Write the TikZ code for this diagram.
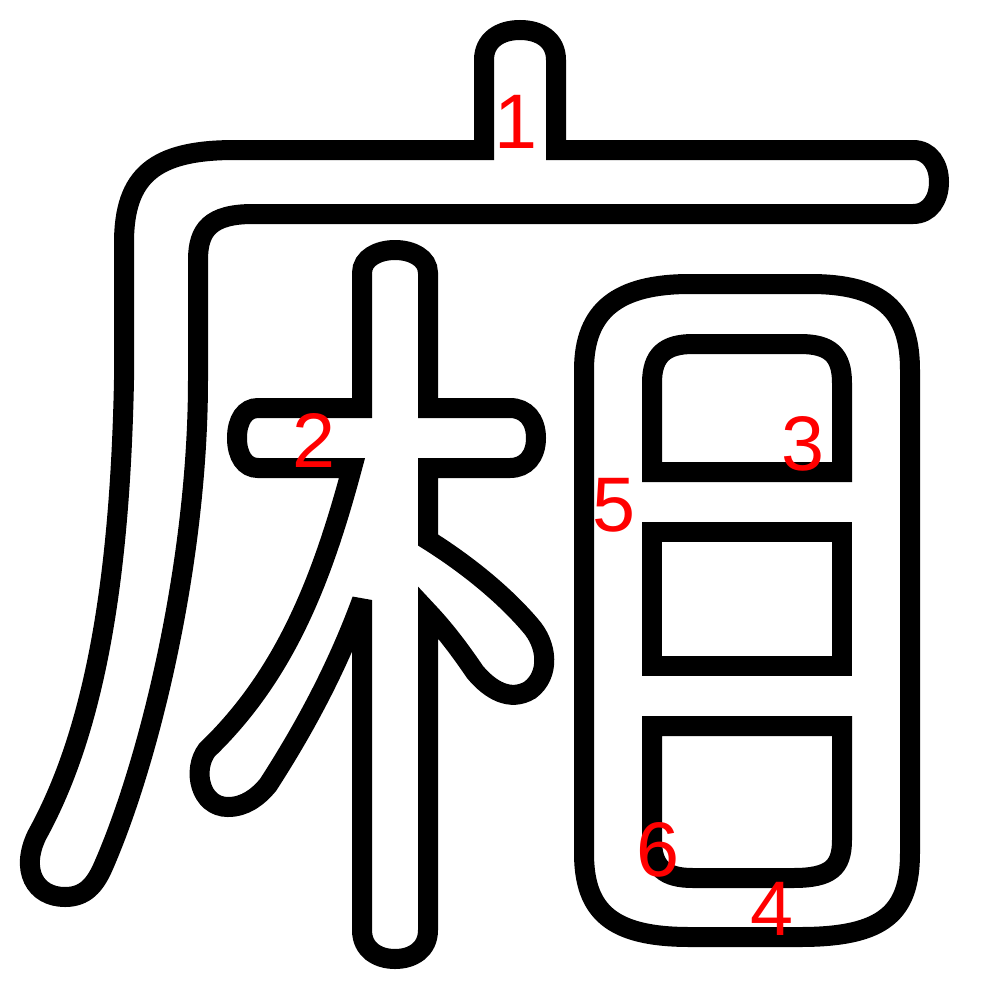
\documentclass[tikz,border=0pt]{standalone}
\usepackage{fontspec}
\usepackage{tikz}
\newfontfamily\numfont{Liberation Sans}

\tikzset{
  outline/.style={line width=15pt, line join=miter, miter limit=3},
  strokenum/.style={text=red, inner sep=0pt, font=\numfont\fontsize{58}{58}\selectfont}
}

\begin{document}
\begin{tikzpicture}[x=0.75pt,y=0.75pt,yscale=-1,xscale=1]
\useasboundingbox (0,0) rectangle (1000,1000);

%Shape: Radical (dot, bar and falling stroke)
\draw [outline]  (484,150) -- (484,60) .. controls (484,40) and (500,30) .. (520,30) .. controls (540,30) and (556,40) .. (556,60) -- (556,150) -- (913,150) .. controls (930,150) and (939,165) .. (939,182) .. controls (939,199) and (930,214) .. (913,214) -- (253,214) .. controls (210,214) and (198,230) .. (198,260) -- (198,380) .. controls (198,560) and (150,760) .. (103,867) .. controls (95,885) and (85,897) .. (65,897) .. controls (35,897) and (20,870) .. (37,835) .. controls (95,730) and (120,580) .. (124,380) -- (124,243) .. controls (124,175) and (155,150) .. (235,150) -- cycle ;

%Shape: Tree component
\draw [outline]  (258,408) -- (362,408) -- (362,273) .. controls (362,258) and (378,250) .. (395,250) .. controls (412,250) and (428,258) .. (428,273) -- (428,408) -- (510,408) .. controls (526,408) and (536,420) .. (536,438) .. controls (536,456) and (526,468) .. (510,468) -- (428,468) -- (428,540) .. controls (460,560) and (500,590) .. (530,625) .. controls (548,645) and (550,675) .. (530,690) .. controls (510,702) and (490,690) .. (475,672) .. controls (460,650) and (445,630) .. (428,612) -- (428,930) .. controls (428,950) and (412,959) .. (395,959) .. controls (378,959) and (362,950) .. (362,930) -- (362,600) .. controls (340,660) and (310,720) .. (268,785) .. controls (258,797) and (245,807) .. (228,807) .. controls (200,807) and (192,770) .. (207,750) .. controls (285,675) and (322,580) .. (352,468) -- (258,468) .. controls (245,468) and (237,456) .. (237,438) .. controls (237,420) and (245,408) .. (258,408) -- cycle ;

%Shape: Eye component, outer contour
\draw [outline]  (584,370) .. controls (584,310) and (618,284) .. (690,284) -- (810,284) .. controls (882,284) and (910,310) .. (910,370) -- (910,853) .. controls (910,912) and (885,937) .. (800,937) -- (690,937) .. controls (612,937) and (584,912) .. (584,853) -- cycle ;
%Shape: Eye component, upper hole
\draw [outline]  (652,472) -- (652,383) .. controls (652,355) and (665,344) .. (693,344) -- (800,344) .. controls (830,344) and (842,355) .. (842,383) -- (842,472) -- cycle ;
%Shape: Eye component, middle hole
\draw [outline]  (652,532) -- (842,532) -- (842,666) -- (652,666) -- cycle ;
%Shape: Eye component, lower hole
\draw [outline]  (652,726) -- (842,726) -- (842,840) .. controls (842,868) and (830,878) .. (793,878) -- (693,878) .. controls (665,878) and (652,868) .. (652,840) -- cycle ;

% Text Node
\node [strokenum] (num1) at (516,122) {1};
% Text Node
\node [strokenum] (num2) at (314,440) {2};
% Text Node
\node [strokenum] (num3) at (803,444) {3};
% Text Node
\node [strokenum] (num4) at (772,909) {4};
% Text Node
\node [strokenum] (num5) at (614,505) {5};
% Text Node
\node [strokenum] (num6) at (658,850) {6};
\end{tikzpicture}
\end{document}
